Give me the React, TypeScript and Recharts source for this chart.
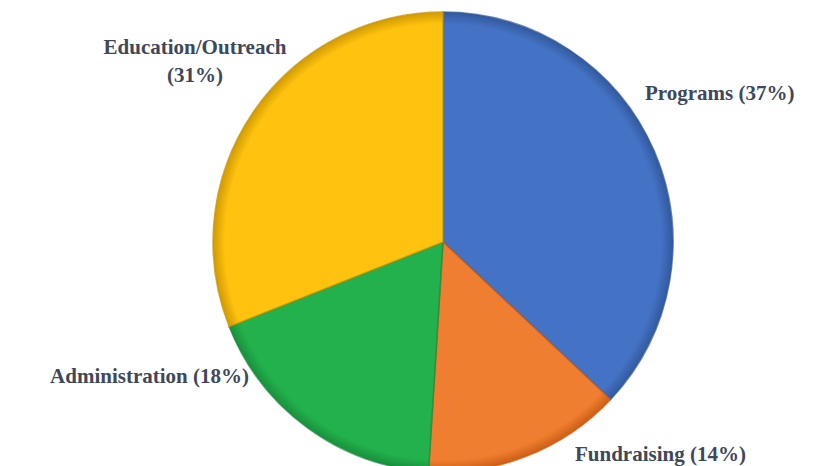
import { Cell, Pie, PieChart } from "recharts";

const categories = ["Programs", "Fundraising", "Administration", "Education/Outreach"];
const shares = [37, 14, 18, 31];

const COLORS = ["#4472C4", "#F07E30", "#22B14C", "#FFC20E"];
const EDGES = ["#2F5597", "#C55A11", "#178A3A", "#C99400"];
const TEXT = "#3e485a";

// label placement relative to the pie centre (the original places them by hand)
const LABEL_POS = [
  { dx: 202, dy: -149, anchor: "start" },
  { dx: 132, dy: 212, anchor: "start" },
  { dx: -194, dy: 134, anchor: "end" },
  { dx: -248, dy: -195, anchor: "middle" },
];

const data = categories.map((name, i) => ({ name, value: shares[i] }));

function renderLabel(props: any) {
  const { cx, cy, index } = props;
  const p = LABEL_POS[index];
  const d = data[index];
  const style = {
    fontFamily: "'Liberation Serif', 'Times New Roman', serif",
    fontWeight: 700,
    fontSize: 21,
  };
  if (d.name === "Education/Outreach") {
    return (
      <text x={cx + p.dx} y={cy + p.dy} fill={TEXT} textAnchor="middle" dominantBaseline="central" style={style}>
        <tspan x={cx + p.dx} dy={0}>{d.name}</tspan>
        <tspan x={cx + p.dx} dy={28}>({d.value}%)</tspan>
      </text>
    );
  }
  return (
    <text
      x={cx + p.dx}
      y={cy + p.dy}
      fill={TEXT}
      textAnchor={p.anchor as any}
      dominantBaseline="central"
      style={style}
    >
      {`${d.name} (${d.value}%)`}
    </text>
  );
}

export default function App() {
  return (
    <div style={{ position: "absolute", left: 0, top: 0, width: 830, height: 466, background: "#fff" }}>
      <PieChart width={830} height={466} margin={{ top: 0, right: 0, bottom: 0, left: 0 }}>
        <defs>
          {COLORS.map((c, i) => (
            <radialGradient key={i} id={`g${i}`} cx={443} cy={242} r={232} gradientUnits="userSpaceOnUse">
              <stop offset="0%" stopColor={c} />
              <stop offset="94%" stopColor={c} />
              <stop offset="100%" stopColor={EDGES[i]} />
            </radialGradient>
          ))}
        </defs>
        <Pie
          data={data}
          dataKey="value"
          nameKey="name"
          cx={443}
          cy={242}
          outerRadius={230}
          startAngle={90}
          endAngle={-270}
          label={renderLabel}
          labelLine={false}
          isAnimationActive={false}
        >
          {data.map((_, i) => (
            <Cell key={i} fill={`url(#g${i})`} stroke={EDGES[i]} strokeOpacity={0.7} strokeWidth={1.5} />
          ))}
        </Pie>
      </PieChart>
    </div>
  );
}
